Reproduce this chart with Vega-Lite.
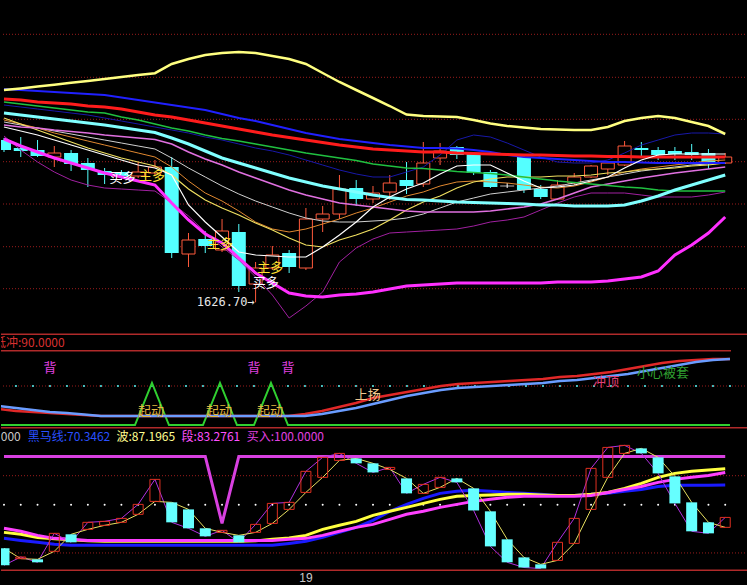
{
"$schema": "https://vega.github.io/schema/vega-lite/v6.json",
"background": "#000000",
"padding": 0,
"spacing": 0,
"bounds": "flush",
"config": {"view": {"stroke": null}, "text": {"font": "Noto Sans CJK SC"}},
"datasets": {
"k": [
{"i":0,"o":1789,"h":1791,"l":1777,"c":1779,"bu":1839,"bl":1790,"mb":1840,"mr":1830,"mg":1827,"mc":1816,"mv":1804,"mw":1802,"my":1811,"mo":1809,"ms":1807,"mp":1793,"mn":1824,"ra":36.9,"rb":43.9,"gr":0,"k":-12.8,"d":4.8,"wv":21.3,"sg":25.5,"hm":15.1,"buy":100},
{"i":1,"o":1781,"h":1792,"l":1772,"c":1778,"bu":1840.6,"bl":1783,"mb":1839,"mr":1829,"mg":1825,"mc":1814,"mv":1802,"mw":1798,"my":1805,"mo":1805,"ms":1804,"mp":1779,"mn":1822,"ra":32.3,"rb":39.2,"gr":0,"k":-4.2,"d":-5.9,"wv":19.3,"sg":22.4,"hm":13.0,"buy":100},
{"i":2,"o":1779,"h":1789,"l":1772,"c":1773,"bu":1842.4,"bl":1777,"mb":1838,"mr":1827,"mg":1823,"mc":1812,"mv":1801,"mw":1794,"my":1799,"mo":1801,"ms":1801,"mp":1767,"mn":1820,"ra":30.0,"rb":34.6,"gr":0,"k":-9.7,"d":-6.6,"wv":16.1,"sg":18.2,"hm":11.0,"buy":100},
{"i":3,"o":1772,"h":1783,"l":1762,"c":1776,"bu":1844.3,"bl":1771,"mb":1837,"mr":1826,"mg":1821,"mc":1810,"mv":1799,"mw":1789,"my":1793,"mo":1796,"ms":1798,"mp":1757,"mn":1818,"ra":27.7,"rb":30.0,"gr":0,"k":20.3,"d":1.7,"wv":14.6,"sg":15.1,"hm":8.9,"buy":100},
{"i":4,"o":1776,"h":1779,"l":1758,"c":1765,"bu":1846.2,"bl":1766,"mb":1836,"mr":1825,"mg":1819,"mc":1808,"mv":1797.5,"mw":1784,"my":1787,"mo":1792,"ms":1795,"mp":1749,"mn":1816,"ra":25.4,"rb":27.7,"gr":0,"k":11.0,"d":19.3,"wv":13.6,"sg":14.1,"hm":7.9,"buy":100},
{"i":5,"o":1766,"h":1771,"l":1742,"c":1759,"bu":1848.1,"bl":1761,"mb":1835,"mr":1823,"mg":1817,"mc":1806,"mv":1796,"mw":1779,"my":1781,"mo":1788,"ms":1792,"mp":1744,"mn":1814,"ra":23.1,"rb":24.2,"gr":0,"k":31.7,"d":24.4,"wv":12.5,"sg":13.0,"hm":7.9,"buy":100},
{"i":6,"o":1758,"h":1761,"l":1745,"c":1754,"bu":1850,"bl":1756,"mb":1834,"mr":1822,"mg":1816,"mc":1804,"mv":1794,"mw":1774,"my":1776,"mo":1784,"ms":1789,"mp":1741,"mn":1811,"ra":20.8,"rb":20.8,"gr":0,"k":32.7,"d":28.6,"wv":12.0,"sg":13.0,"hm":7.9,"buy":100},
{"i":7,"o":1757,"h":1759,"l":1749,"c":1753,"bu":1852,"bl":1752,"mb":1831.5,"mr":1820,"mg":1812,"mc":1801.5,"mv":1792.5,"mw":1769,"my":1771,"mo":1780,"ms":1786,"mp":1740,"mn":1808,"ra":20.8,"rb":20.8,"gr":0,"k":35.8,"d":31.7,"wv":12.0,"sg":13.0,"hm":7.9,"buy":100},
{"i":8,"o":1753,"h":1767,"l":1751,"c":1757,"bu":1854,"bl":1748,"mb":1829,"mr":1817,"mg":1809,"mc":1799,"mv":1791,"mw":1764,"my":1767,"mo":1776,"ms":1783,"mp":1739,"mn":1805,"ra":20.8,"rb":20.8,"gr":0,"k":50.3,"d":40.0,"wv":12.0,"sg":13.0,"hm":7.9,"buy":100},
{"i":9,"o":1756,"h":1769,"l":1753,"c":1762,"bu":1855.8,"bl":1744,"mb":1826.5,"mr":1814,"mg":1805,"mc":1796.5,"mv":1789.5,"mw":1761,"my":1763,"mo":1772,"ms":1780,"mp":1738,"mn":1802,"ra":20.8,"rb":20.8,"gr":97,"k":76.2,"d":53.4,"wv":12.0,"sg":13.0,"hm":7.9,"buy":100},
{"i":10,"o":1762,"h":1772,"l":1671,"c":1676,"bu":1865,"bl":1726,"mb":1824,"mr":1812,"mg":1801,"mc":1791,"mv":1785,"mw":1754,"my":1754,"mo":1762,"ms":1771,"mp":1726,"mn":1799,"ra":20.8,"rb":20.8,"gr":0,"k":31.7,"d":52.4,"wv":12.0,"sg":13.0,"hm":7.9,"buy":100},
{"i":11,"o":1675,"h":1696,"l":1662,"c":1689,"bu":1870,"bl":1709,"mb":1821.5,"mr":1809,"mg":1798,"mc":1785,"mv":1777,"mw":1724,"my":1740,"mo":1748,"ms":1761,"mp":1713,"mn":1796,"ra":20.8,"rb":20.8,"gr":0,"k":25.5,"d":45.1,"wv":12.0,"sg":13.0,"hm":7.9,"buy":100},
{"i":12,"o":1690,"h":1698,"l":1676,"c":1683,"bu":1874,"bl":1695,"mb":1819,"mr":1806,"mg":1794,"mc":1778,"mv":1770,"mw":1707,"my":1729,"mo":1736,"ms":1752,"mp":1697,"mn":1792,"ra":20.8,"rb":20.8,"gr":0,"k":17.2,"d":25.5,"wv":12.0,"sg":13.0,"hm":7.9,"buy":100},
{"i":13,"o":1679,"h":1710,"l":1677,"c":1698,"bu":1876,"bl":1686,"mb":1815,"mr":1803,"mg":1790.5,"mc":1771,"mv":1764,"mw":1692,"my":1721,"mo":1728,"ms":1743,"mp":1682,"mn":1789,"ra":20.8,"rb":20.8,"gr":97,"k":23.4,"d":21.3,"wv":12.0,"sg":13.0,"hm":7.9,"buy":30.6},
{"i":14,"o":1697,"h":1705,"l":1637,"c":1643,"bu":1877,"bl":1671,"mb":1811,"mr":1800,"mg":1788,"mc":1766,"mv":1757,"mw":1677,"my":1714,"mo":1718,"ms":1735,"mp":1669,"mn":1785,"ra":20.8,"rb":20.8,"gr":0,"k":11.0,"d":18.2,"wv":12.0,"sg":13.0,"hm":7.9,"buy":100},
{"i":15,"o":1645,"h":1667,"l":1626.7,"c":1661,"bu":1876,"bl":1656,"mb":1808,"mr":1797,"mg":1785,"mc":1761,"mv":1751,"mw":1674,"my":1706,"mo":1707,"ms":1728,"mp":1652,"mn":1781,"ra":20.8,"rb":20.8,"gr":0,"k":29.6,"d":21.3,"wv":12.5,"sg":13.0,"hm":7.9,"buy":100},
{"i":16,"o":1661,"h":1683,"l":1659,"c":1674,"bu":1873,"bl":1646,"mb":1804,"mr":1794,"mg":1782,"mc":1756,"mv":1745,"mw":1673,"my":1699,"mo":1700,"ms":1722,"mp":1634,"mn":1778,"ra":20.8,"rb":20.8,"gr":97,"k":51.3,"d":30.6,"wv":14.1,"sg":13.0,"hm":7.9,"buy":100},
{"i":17,"o":1676,"h":1679,"l":1656,"c":1662,"bu":1870,"bl":1636,"mb":1800,"mr":1791.5,"mg":1779,"mc":1751,"mv":1739,"mw":1672,"my":1691,"mo":1697,"ms":1716,"mp":1611,"mn":1774,"ra":20.8,"rb":20.8,"gr":0,"k":52.4,"d":45.1,"wv":15.6,"sg":14.1,"hm":9.9,"buy":100},
{"i":18,"o":1661,"h":1721,"l":1659,"c":1710,"bu":1865,"bl":1633,"mb":1796,"mr":1789,"mg":1776,"mc":1747,"mv":1734,"mw":1672,"my":1684,"mo":1700,"ms":1711,"mp":1623,"mn":1769,"ra":25.4,"rb":20.8,"gr":0,"k":84.5,"d":62.7,"wv":18.2,"sg":15.1,"hm":12.0,"buy":100},
{"i":19,"o":1710,"h":1723,"l":1697,"c":1715,"bu":1856,"bl":1632,"mb":1793,"mr":1786.5,"mg":1773.5,"mc":1743,"mv":1730,"mw":1682,"my":1682,"mo":1705,"ms":1708,"mp":1637,"mn":1764,"ra":32.3,"rb":25.4,"gr":0,"k":99.0,"d":78.3,"wv":24.4,"sg":18.2,"hm":16.1,"buy":100},
{"i":20,"o":1715,"h":1754,"l":1710,"c":1740,"bu":1847,"bl":1634,"mb":1790,"mr":1784,"mg":1771,"mc":1740,"mv":1726,"mw":1694,"my":1689,"mo":1710,"ms":1707,"mp":1667,"mn":1759,"ra":41.5,"rb":32.3,"gr":0,"k":103.1,"d":95.9,"wv":28.6,"sg":22.4,"hm":21.3,"buy":100},
{"i":21,"o":1741,"h":1749,"l":1723,"c":1730,"bu":1839,"bl":1635,"mb":1788,"mr":1782,"mg":1768.5,"mc":1737,"mv":1724,"mw":1707,"my":1694,"mo":1716,"ms":1707,"mp":1681,"mn":1755,"ra":50.8,"rb":39.2,"gr":0,"k":92.8,"d":97.9,"wv":32.7,"sg":26.5,"hm":26.5,"buy":100},
{"i":22,"o":1730,"h":1743,"l":1726,"c":1736,"bu":1831,"bl":1637,"mb":1786,"mr":1780,"mg":1765,"mc":1734,"mv":1722,"mw":1722,"my":1700,"mo":1721,"ms":1708,"mp":1690,"mn":1752,"ra":62.3,"rb":48.5,"gr":0,"k":83.4,"d":92.8,"wv":38.9,"sg":29.6,"hm":33.7,"buy":100},
{"i":23,"o":1737,"h":1754,"l":1729,"c":1746,"bu":1823,"bl":1640,"mb":1784,"mr":1779,"mg":1763,"mc":1731.5,"mv":1720,"mw":1732,"my":1709,"mo":1727,"ms":1709,"mp":1696,"mn":1752,"ra":69.2,"rb":57.7,"gr":0,"k":88.6,"d":86.5,"wv":43.1,"sg":34.8,"hm":43.1,"buy":100},
{"i":24,"o":1749,"h":1767,"l":1735,"c":1743,"bu":1814.5,"bl":1643,"mb":1782.5,"mr":1778,"mg":1761,"mc":1729.5,"mv":1718,"mw":1740,"my":1719,"mo":1733,"ms":1711,"mp":1697,"mn":1757,"ra":76.2,"rb":66.9,"gr":0,"k":61.7,"d":77.2,"wv":47.2,"sg":40.0,"hm":50.3,"buy":100},
{"i":25,"o":1745,"h":1787,"l":1742,"c":1766,"bu":1813,"bl":1644,"mb":1781,"mr":1777,"mg":1760.5,"mc":1729,"mv":1717,"mw":1746,"my":1727,"mo":1737,"ms":1715,"mp":1698,"mn":1762,"ra":83.1,"rb":73.9,"gr":0,"k":71.0,"d":61.7,"wv":51.3,"sg":43.1,"hm":56.5,"buy":100},
{"i":26,"o":1771,"h":1786,"l":1764,"c":1778,"bu":1812.5,"bl":1645,"mb":1781,"mr":1777,"mg":1759,"mc":1728,"mv":1717,"mw":1755,"my":1733,"mo":1743,"ms":1721,"mp":1699,"mn":1774,"ra":90.0,"rb":80.8,"gr":0,"k":78.3,"d":67.9,"wv":55.5,"sg":47.2,"hm":61.7,"buy":100},
{"i":27,"o":1782,"h":1783,"l":1770,"c":1774,"bu":1812,"bl":1646,"mb":1780.5,"mr":1776,"mg":1757.5,"mc":1727,"mv":1717,"mw":1763,"my":1741,"mo":1747,"ms":1727,"mp":1700,"mn":1789,"ra":94.6,"rb":85.4,"gr":0,"k":73.1,"d":77.2,"wv":58.6,"sg":50.3,"hm":63.8,"buy":100},
{"i":28,"o":1776,"h":1777,"l":1754,"c":1756,"bu":1809,"bl":1646,"mb":1779,"mr":1775.5,"mg":1756.5,"mc":1726.5,"mv":1717,"mw":1764,"my":1747,"mo":1748,"ms":1731,"mp":1703,"mn":1794,"ra":96.9,"rb":87.7,"gr":0,"k":44.0,"d":66.9,"wv":59.6,"sg":53.4,"hm":64.8,"buy":100},
{"i":29,"o":1757,"h":1759,"l":1741,"c":1742,"bu":1805.5,"bl":1646,"mb":1777,"mr":1775,"mg":1755.5,"mc":1726,"mv":1718,"mw":1764,"my":1750,"mo":1747,"ms":1735,"mp":1707,"mn":1792,"ra":99.2,"rb":90.0,"gr":0,"k":6.8,"d":43.1,"wv":60.1,"sg":55.5,"hm":63.8,"buy":100},
{"i":30,"o":1743,"h":1746,"l":1741,"c":1743,"bu":1803,"bl":1646,"mb":1774,"mr":1774.5,"mg":1754,"mc":1725.5,"mv":1720,"mw":1756,"my":1752,"mo":1746,"ms":1737,"mp":1709,"mn":1786,"ra":101.5,"rb":92.3,"gr":0,"k":-9.7,"d":14.1,"wv":60.7,"sg":57.6,"hm":62.7,"buy":100},
{"i":31,"o":1772,"h":1775,"l":1736,"c":1739,"bu":1801.5,"bl":1646,"mb":1772,"mr":1774,"mg":1752,"mc":1725,"mv":1722,"mw":1748,"my":1752,"mo":1744,"ms":1739,"mp":1712,"mn":1779,"ra":103.9,"rb":94.6,"gr":0,"k":-15.1,"d":-4.6,"wv":60.7,"sg":58.6,"hm":61.7,"buy":100},
{"i":32,"o":1740,"h":1744,"l":1730,"c":1732,"bu":1800,"bl":1646,"mb":1771,"mr":1774,"mg":1750,"mc":1724,"mv":1725,"mw":1741,"my":1752,"mo":1742,"ms":1741,"mp":1719,"mn":1772,"ra":106.2,"rb":96.9,"gr":0,"k":-16.1,"d":-11.8,"wv":60.1,"sg":58.6,"hm":60.7,"buy":100},
{"i":33,"o":1730,"h":1749,"l":1729,"c":1744,"bu":1799.5,"bl":1647,"mb":1770,"mr":1773.5,"mg":1748,"mc":1724,"mv":1730,"mw":1742,"my":1753,"mo":1741,"ms":1743,"mp":1726,"mn":1767,"ra":110.8,"rb":101.5,"gr":0,"k":11.0,"d":-7.7,"wv":59.6,"sg":58.6,"hm":59.6,"buy":100},
{"i":34,"o":1746,"h":1756,"l":1744,"c":1752,"bu":1799,"bl":1647,"mb":1769,"mr":1773,"mg":1746.5,"mc":1723,"mv":1736,"mw":1744,"my":1753,"mo":1743,"ms":1746,"mp":1732,"mn":1766,"ra":113.1,"rb":103.9,"gr":0,"k":35.8,"d":9.9,"wv":59.6,"sg":58.6,"hm":59.6,"buy":100},
{"i":35,"o":1752,"h":1764,"l":1751,"c":1763,"bu":1799,"bl":1647,"mb":1768,"mr":1773,"mg":1745,"mc":1723,"mv":1742,"mw":1748,"my":1754,"mo":1747,"ms":1749,"mp":1736,"mn":1766,"ra":117.7,"rb":108.5,"gr":0,"k":87.6,"d":45.1,"wv":60.7,"sg":59.6,"hm":60.7,"buy":100},
{"i":36,"o":1760,"h":1767,"l":1754,"c":1766,"bu":1802,"bl":1648,"mb":1767,"mr":1772.5,"mg":1743.5,"mc":1723,"mv":1745,"mw":1752,"my":1756,"mo":1752,"ms":1752,"mp":1736,"mn":1769,"ra":122.3,"rb":113.1,"gr":0,"k":109.3,"d":78.3,"wv":62.7,"sg":62.7,"hm":61.7,"buy":100},
{"i":37,"o":1764,"h":1788,"l":1763,"c":1783,"bu":1808,"bl":1650,"mb":1767,"mr":1772.5,"mg":1742,"mc":1724,"mv":1748,"mw":1761,"my":1757,"mo":1757,"ms":1755,"mp":1736,"mn":1776,"ra":129.2,"rb":117.7,"gr":0,"k":111.4,"d":103.1,"wv":66.9,"sg":65.8,"hm":63.8,"buy":100},
{"i":38,"o":1781,"h":1787,"l":1773,"c":1779,"bu":1811,"bl":1652,"mb":1766.5,"mr":1772,"mg":1741,"mc":1728,"mv":1751,"mw":1769,"my":1759,"mo":1760,"ms":1758,"mp":1734,"mn":1784,"ra":136.2,"rb":124.6,"gr":0,"k":103.1,"d":108.3,"wv":72.1,"sg":68.9,"hm":65.8,"buy":100},
{"i":39,"o":1779,"h":1782,"l":1769,"c":1774,"bu":1813,"bl":1658,"mb":1766,"mr":1772,"mg":1739,"mc":1733,"mv":1753.5,"mw":1774,"my":1760,"mo":1762,"ms":1760,"mp":1732,"mn":1789,"ra":143.1,"rb":131.5,"gr":0,"k":82.4,"d":99.0,"wv":78.3,"sg":73.1,"hm":68.9,"buy":100},
{"i":40,"o":1778,"h":1782,"l":1769,"c":1775,"bu":1811,"bl":1674,"mb":1766,"mr":1772,"mg":1738,"mc":1739,"mv":1756,"mw":1775,"my":1761,"mo":1764,"ms":1762,"mp":1732,"mn":1794,"ra":147.7,"rb":138.5,"gr":0,"k":51.3,"d":79.3,"wv":82.4,"sg":76.2,"hm":70.0,"buy":100},
{"i":41,"o":1777,"h":1785,"l":1769,"c":1774,"bu":1807,"bl":1684,"mb":1766,"mr":1772,"mg":1738,"mc":1744,"mv":1758,"mw":1775,"my":1763,"mo":1766,"ms":1764,"mp":1732,"mn":1796,"ra":150.0,"rb":145.4,"gr":0,"k":22.4,"d":52.4,"wv":84.5,"sg":78.3,"hm":70.0,"buy":100},
{"i":42,"o":1776,"h":1780,"l":1760,"c":1767,"bu":1803,"bl":1696,"mb":1766,"mr":1772,"mg":1738,"mc":1749,"mv":1760,"mw":1775,"my":1764,"mo":1768,"ms":1765,"mp":1734,"mn":1796,"ra":152.3,"rb":150.0,"gr":0,"k":20.3,"d":31.7,"wv":86.0,"sg":80.3,"hm":70.0,"buy":100},
{"i":43,"o":1766,"h":1776,"l":1765,"c":1772,"bu":1795,"bl":1712,"mb":1766,"mr":1772,"mg":1738,"mc":1754,"mv":1762,"mw":1775,"my":1766,"mo":1769,"ms":1766,"mp":1737,"mn":1795,"ra":152.3,"rb":152.3,"gr":0,"k":36.8,"d":26.5,"wv":87.2,"sg":83.3,"hm":70.3,"buy":100}
]
},
"vconcat": [
{
"width": 747, "height": 334,
"layer": [
{"data": {"values": [{"g":1894.7},{"g":1851.7},{"g":1809.7},{"g":1767.3},{"g":1725},{"g":1682.3},{"g":1640.3}]},
 "mark": {"type": "rule", "color": "#9a1c1c", "strokeDash": [1, 2], "strokeWidth": 1},
 "encoding": {"y": {"field": "g", "type": "quantitative", "scale": {"domain": [1595, 1929], "nice": false, "zero": false}, "axis": null}}},
{"data": {"name": "k"}, "transform": [{"filter": "datum.c > datum.o"}],
 "mark": {"type": "rule", "color": "#ff5a3c", "strokeWidth": 1, "clip": true},
 "encoding": {"x": {"field": "i", "type": "quantitative", "scale": {"domain": [0.12, 44.06], "nice": false, "zero": false}, "axis": null},
  "y": {"field": "l", "type": "quantitative", "scale": {"domain": [1595, 1929], "nice": false, "zero": false}, "axis": null}, "y2": {"field": "h"}}},
{"data": {"name": "k"}, "transform": [{"filter": "datum.c < datum.o"}],
 "mark": {"type": "rule", "color": "#54ffff", "strokeWidth": 1, "clip": true},
 "encoding": {"x": {"field": "i", "type": "quantitative", "scale": {"domain": [0.12, 44.06], "nice": false, "zero": false}, "axis": null},
  "y": {"field": "l", "type": "quantitative", "scale": {"domain": [1595, 1929], "nice": false, "zero": false}, "axis": null}, "y2": {"field": "h"}}},
{"data": {"name": "k"}, "transform": [{"filter": "datum.c == datum.o"}],
 "mark": {"type": "rule", "color": "#ffffff", "strokeWidth": 1, "clip": true},
 "encoding": {"x": {"field": "i", "type": "quantitative", "scale": {"domain": [0.12, 44.06], "nice": false, "zero": false}, "axis": null},
  "y": {"field": "l", "type": "quantitative", "scale": {"domain": [1595, 1929], "nice": false, "zero": false}, "axis": null}, "y2": {"field": "h"}}},
{"data": {"name": "k"}, "transform": [{"filter": "datum.c > datum.o"}],
 "mark": {"type": "bar", "fill": "#000000", "stroke": "#ff5a3c", "strokeWidth": 1, "size": 13, "clip": true},
 "encoding": {"x": {"field": "i", "type": "quantitative", "scale": {"domain": [0.12, 44.06], "nice": false, "zero": false}, "axis": null},
  "y": {"field": "o", "type": "quantitative", "scale": {"domain": [1595, 1929], "nice": false, "zero": false}, "axis": null}, "y2": {"field": "c"}}},
{"data": {"name": "k"}, "transform": [{"filter": "datum.c < datum.o"}],
 "mark": {"type": "bar", "color": "#54ffff", "size": 14, "clip": true},
 "encoding": {"x": {"field": "i", "type": "quantitative", "scale": {"domain": [0.12, 44.06], "nice": false, "zero": false}, "axis": null},
  "y": {"field": "o", "type": "quantitative", "scale": {"domain": [1595, 1929], "nice": false, "zero": false}, "axis": null}, "y2": {"field": "c"}}},
{"data": {"name": "k"}, "transform": [{"filter": "datum.c == datum.o"}],
 "mark": {"type": "tick", "color": "#ffffff", "orient": "horizontal", "size": 14, "thickness": 1, "clip": true},
 "encoding": {"x": {"field": "i", "type": "quantitative", "scale": {"domain": [0.12, 44.06], "nice": false, "zero": false}, "axis": null},
  "y": {"field": "o", "type": "quantitative", "scale": {"domain": [1595, 1929], "nice": false, "zero": false}, "axis": null}}},
{"data": {"name": "k"}, "mark": {"type": "line", "color": "#a020a0", "strokeWidth": 1, "clip": true},
 "encoding": {"x": {"field": "i", "type": "quantitative", "scale": {"domain": [0.12, 44.06], "nice": false, "zero": false}, "axis": null}, "y": {"field": "mp", "type": "quantitative", "scale": {"domain": [1595, 1929], "nice": false, "zero": false}, "axis": null}}},
{"data": {"name": "k"}, "mark": {"type": "line", "color": "#1818a8", "strokeWidth": 1, "clip": true},
 "encoding": {"x": {"field": "i", "type": "quantitative", "scale": {"domain": [0.12, 44.06], "nice": false, "zero": false}, "axis": null}, "y": {"field": "mn", "type": "quantitative", "scale": {"domain": [1595, 1929], "nice": false, "zero": false}, "axis": null}}},
{"data": {"name": "k"}, "mark": {"type": "line", "color": "#d0d0d0", "strokeWidth": 1, "clip": true},
 "encoding": {"x": {"field": "i", "type": "quantitative", "scale": {"domain": [0.12, 44.06], "nice": false, "zero": false}, "axis": null}, "y": {"field": "ms", "type": "quantitative", "scale": {"domain": [1595, 1929], "nice": false, "zero": false}, "axis": null}}},
{"data": {"name": "k"}, "mark": {"type": "line", "color": "#e08830", "strokeWidth": 1, "clip": true},
 "encoding": {"x": {"field": "i", "type": "quantitative", "scale": {"domain": [0.12, 44.06], "nice": false, "zero": false}, "axis": null}, "y": {"field": "mo", "type": "quantitative", "scale": {"domain": [1595, 1929], "nice": false, "zero": false}, "axis": null}}},
{"data": {"name": "k"}, "mark": {"type": "line", "color": "#f0e060", "strokeWidth": 1.2, "clip": true},
 "encoding": {"x": {"field": "i", "type": "quantitative", "scale": {"domain": [0.12, 44.06], "nice": false, "zero": false}, "axis": null}, "y": {"field": "my", "type": "quantitative", "scale": {"domain": [1595, 1929], "nice": false, "zero": false}, "axis": null}}},
{"data": {"name": "k"}, "mark": {"type": "line", "color": "#e070e0", "strokeWidth": 1.6, "clip": true},
 "encoding": {"x": {"field": "i", "type": "quantitative", "scale": {"domain": [0.12, 44.06], "nice": false, "zero": false}, "axis": null}, "y": {"field": "mv", "type": "quantitative", "scale": {"domain": [1595, 1929], "nice": false, "zero": false}, "axis": null}}},
{"data": {"name": "k"}, "mark": {"type": "line", "color": "#20c040", "strokeWidth": 1.6, "clip": true},
 "encoding": {"x": {"field": "i", "type": "quantitative", "scale": {"domain": [0.12, 44.06], "nice": false, "zero": false}, "axis": null}, "y": {"field": "mg", "type": "quantitative", "scale": {"domain": [1595, 1929], "nice": false, "zero": false}, "axis": null}}},
{"data": {"name": "k"}, "mark": {"type": "line", "color": "#80ffff", "strokeWidth": 3, "clip": true},
 "encoding": {"x": {"field": "i", "type": "quantitative", "scale": {"domain": [0.12, 44.06], "nice": false, "zero": false}, "axis": null}, "y": {"field": "mc", "type": "quantitative", "scale": {"domain": [1595, 1929], "nice": false, "zero": false}, "axis": null}}},
{"data": {"name": "k"}, "mark": {"type": "line", "color": "#2020ff", "strokeWidth": 2, "clip": true},
 "encoding": {"x": {"field": "i", "type": "quantitative", "scale": {"domain": [0.12, 44.06], "nice": false, "zero": false}, "axis": null}, "y": {"field": "mb", "type": "quantitative", "scale": {"domain": [1595, 1929], "nice": false, "zero": false}, "axis": null}}},
{"data": {"name": "k"}, "mark": {"type": "line", "color": "#ff1c1c", "strokeWidth": 3, "clip": true},
 "encoding": {"x": {"field": "i", "type": "quantitative", "scale": {"domain": [0.12, 44.06], "nice": false, "zero": false}, "axis": null}, "y": {"field": "mr", "type": "quantitative", "scale": {"domain": [1595, 1929], "nice": false, "zero": false}, "axis": null}}},
{"data": {"name": "k"}, "mark": {"type": "line", "color": "#ffffff", "strokeWidth": 1.2, "clip": true},
 "encoding": {"x": {"field": "i", "type": "quantitative", "scale": {"domain": [0.12, 44.06], "nice": false, "zero": false}, "axis": null}, "y": {"field": "mw", "type": "quantitative", "scale": {"domain": [1595, 1929], "nice": false, "zero": false}, "axis": null}}},
{"data": {"name": "k"}, "mark": {"type": "line", "color": "#ffff80", "strokeWidth": 2.5, "clip": true},
 "encoding": {"x": {"field": "i", "type": "quantitative", "scale": {"domain": [0.12, 44.06], "nice": false, "zero": false}, "axis": null}, "y": {"field": "bu", "type": "quantitative", "scale": {"domain": [1595, 1929], "nice": false, "zero": false}, "axis": null}}},
{"data": {"name": "k"}, "mark": {"type": "line", "color": "#ff30ff", "strokeWidth": 3, "clip": true},
 "encoding": {"x": {"field": "i", "type": "quantitative", "scale": {"domain": [0.12, 44.06], "nice": false, "zero": false}, "axis": null}, "y": {"field": "bl", "type": "quantitative", "scale": {"domain": [1595, 1929], "nice": false, "zero": false}, "axis": null}}},
{"data": {"values": [{"t":"买多","x":7.06,"p":1751},{"t":"买多","x":15.6,"p":1646}]},
 "mark": {"type": "text", "color": "#ffffff", "fontSize": 13, "clip": true},
 "encoding": {"x": {"field": "x", "type": "quantitative", "scale": {"domain": [0.12, 44.06], "nice": false, "zero": false}, "axis": null}, "y": {"field": "p", "type": "quantitative", "scale": {"domain": [1595, 1929], "nice": false, "zero": false}, "axis": null}, "text": {"field": "t"}}},
{"data": {"values": [{"t":"主多","x":8.82,"p":1753},{"t":"主多","x":12.88,"p":1685},{"t":"主多","x":15.88,"p":1661}]},
 "mark": {"type": "text", "color": "#ffe030", "fontSize": 13, "clip": true},
 "encoding": {"x": {"field": "x", "type": "quantitative", "scale": {"domain": [0.12, 44.06], "nice": false, "zero": false}, "axis": null}, "y": {"field": "p", "type": "quantitative", "scale": {"domain": [1595, 1929], "nice": false, "zero": false}, "axis": null}, "text": {"field": "t"}}},
{"data": {"values": [{"t":"1626.70→","x":15,"p":1626.7}]},
 "mark": {"type": "text", "color": "#e6e6e6", "font": "DejaVu Sans Mono", "fontSize": 12, "align": "right", "dx": -1, "clip": true},
 "encoding": {"x": {"field": "x", "type": "quantitative", "scale": {"domain": [0.12, 44.06], "nice": false, "zero": false}, "axis": null}, "y": {"field": "p", "type": "quantitative", "scale": {"domain": [1595, 1929], "nice": false, "zero": false}, "axis": null}, "text": {"field": "t"}}}
]
},
{
"width": 747, "height": 94,
"layer": [
{"data": {"values": [{"v":209.2}]}, "mark": {"type": "rule", "color": "#b02a2a", "strokeWidth": 1.5}, "encoding": {"y": {"field": "v", "type": "quantitative", "scale": {"domain": [-6.9, 210], "nice": false, "zero": false}, "axis": null}}},
{"data": {"values": [{"x1":0.12,"x2":43.06,"v":171.5}]}, "mark": {"type": "rule", "color": "#b02a2a", "strokeWidth": 1.5}, "encoding": {"x": {"field": "x1", "type": "quantitative", "scale": {"domain": [0.12, 44.06], "nice": false, "zero": false}, "axis": null}, "x2": {"field": "x2"}, "y": {"field": "v", "type": "quantitative", "scale": {"domain": [-6.9, 210], "nice": false, "zero": false}, "axis": null}}},
{"data": {"values": [{"v":-6.2}]}, "mark": {"type": "rule", "color": "#b02a2a", "strokeWidth": 1.5}, "encoding": {"y": {"field": "v", "type": "quantitative", "scale": {"domain": [-6.9, 210], "nice": false, "zero": false}, "axis": null}}},
{"data": {"values": [{"v":90}]}, "mark": {"type": "rule", "color": "#9a1c1c", "strokeWidth": 1, "strokeDash": [1, 2]}, "encoding": {"y": {"field": "v", "type": "quantitative", "scale": {"domain": [-6.9, 210], "nice": false, "zero": false}, "axis": null}}},
{"data": {"name": "k"}, "mark": {"type": "point", "filled": true, "color": "#50e0e0", "size": 5, "opacity": 1, "clip": true},
 "encoding": {"x": {"field": "i", "type": "quantitative", "scale": {"domain": [0.12, 44.06], "nice": false, "zero": false}, "axis": null}, "y": {"datum": 90, "type": "quantitative", "scale": {"domain": [-6.9, 210], "nice": false, "zero": false}, "axis": null}}},
{"data": {"name": "k"}, "mark": {"type": "line", "color": "#30d030", "strokeWidth": 2, "clip": true},
 "encoding": {"x": {"field": "i", "type": "quantitative", "scale": {"domain": [0.12, 44.06], "nice": false, "zero": false}, "axis": null}, "y": {"field": "gr", "type": "quantitative", "scale": {"domain": [-6.9, 210], "nice": false, "zero": false}, "axis": null}}},
{"data": {"name": "k"}, "mark": {"type": "line", "color": "#e02828", "strokeWidth": 2.5, "clip": true},
 "encoding": {"x": {"field": "i", "type": "quantitative", "scale": {"domain": [0.12, 44.06], "nice": false, "zero": false}, "axis": null}, "y": {"field": "ra", "type": "quantitative", "scale": {"domain": [-6.9, 210], "nice": false, "zero": false}, "axis": null}}},
{"data": {"name": "k"}, "mark": {"type": "line", "color": "#6a9cff", "strokeWidth": 2.5, "clip": true},
 "encoding": {"x": {"field": "i", "type": "quantitative", "scale": {"domain": [0.12, 44.06], "nice": false, "zero": false}, "axis": null}, "y": {"field": "rb", "type": "quantitative", "scale": {"domain": [-6.9, 210], "nice": false, "zero": false}, "axis": null}}},
{"data": {"values": [{"t":"低冲:90.0000","x":0.12,"v":189.2}]},
 "mark": {"type": "text", "color": "#d83030", "fontSize": 12, "align": "left", "dx": -7, "clip": true},
 "encoding": {"x": {"field": "x", "type": "quantitative", "scale": {"domain": [0.12, 44.06], "nice": false, "zero": false}, "axis": null}, "y": {"field": "v", "type": "quantitative", "scale": {"domain": [-6.9, 210], "nice": false, "zero": false}, "axis": null}, "text": {"field": "t"}}},
{"data": {"values": [{"x":3},{"x":15},{"x":17}]},
 "mark": {"type": "text", "text": "背", "color": "#e040e0", "fontSize": 13, "clip": true},
 "encoding": {"x": {"field": "x", "type": "quantitative", "scale": {"domain": [0.12, 44.06], "nice": false, "zero": false}, "axis": null}, "y": {"datum": 131.5, "type": "quantitative", "scale": {"domain": [-6.9, 210], "nice": false, "zero": false}, "axis": null}}},
{"data": {"values": [{"x":8.94},{"x":12.94},{"x":15.94}]},
 "mark": {"type": "text", "text": "起动", "color": "#e0b840", "fontSize": 13, "clip": true},
 "encoding": {"x": {"field": "x", "type": "quantitative", "scale": {"domain": [0.12, 44.06], "nice": false, "zero": false}, "axis": null}, "y": {"datum": 33, "type": "quantitative", "scale": {"domain": [-6.9, 210], "nice": false, "zero": false}, "axis": null}}},
{"data": {"values": [{"t":"上扬","x":21.7,"v":69.2,"c":"#f0c890"},{"t":"冲顶","x":35.7,"v":99.2,"c":"#e04078"},{"t":"小心被套","x":39.06,"v":121,"c":"#30a030"}]},
 "mark": {"type": "text", "fontSize": 13, "clip": true},
 "encoding": {"x": {"field": "x", "type": "quantitative", "scale": {"domain": [0.12, 44.06], "nice": false, "zero": false}, "axis": null}, "y": {"field": "v", "type": "quantitative", "scale": {"domain": [-6.9, 210], "nice": false, "zero": false}, "axis": null}, "text": {"field": "t"}, "color": {"field": "c", "type": "nominal", "scale": null, "legend": null}}}
]
},
{
"width": 747, "height": 143,
"layer": [
{"data": {"values": [{"v":-18.0}]}, "mark": {"type": "rule", "color": "#b02a2a", "strokeWidth": 1.5}, "encoding": {"y": {"field": "v", "type": "quantitative", "scale": {"domain": [-18.7, 129.4], "nice": false, "zero": false}, "axis": null}}},
{"data": {"values": [{"g":80},{"g":0}]}, "mark": {"type": "rule", "color": "#9a1c1c", "strokeWidth": 1, "strokeDash": [1, 2]}, "encoding": {"y": {"field": "g", "type": "quantitative", "scale": {"domain": [-18.7, 129.4], "nice": false, "zero": false}, "axis": null}}},
{"data": {"name": "k"}, "mark": {"type": "point", "filled": true, "color": "#ffffff", "size": 4, "opacity": 1, "clip": true},
 "encoding": {"x": {"field": "i", "type": "quantitative", "scale": {"domain": [0.12, 44.06], "nice": false, "zero": false}, "axis": null}, "y": {"datum": 50, "type": "quantitative", "scale": {"domain": [-18.7, 129.4], "nice": false, "zero": false}, "axis": null}}},
{"data": {"name": "k"}, "mark": {"type": "line", "color": "#1a1aff", "strokeWidth": 3, "clip": true},
 "encoding": {"x": {"field": "i", "type": "quantitative", "scale": {"domain": [0.12, 44.06], "nice": false, "zero": false}, "axis": null}, "y": {"field": "hm", "type": "quantitative", "scale": {"domain": [-18.7, 129.4], "nice": false, "zero": false}, "axis": null}}},
{"data": {"name": "k"}, "mark": {"type": "line", "color": "#ffff40", "strokeWidth": 3, "clip": true},
 "encoding": {"x": {"field": "i", "type": "quantitative", "scale": {"domain": [0.12, 44.06], "nice": false, "zero": false}, "axis": null}, "y": {"field": "wv", "type": "quantitative", "scale": {"domain": [-18.7, 129.4], "nice": false, "zero": false}, "axis": null}}},
{"data": {"name": "k"}, "mark": {"type": "line", "color": "#ff40ff", "strokeWidth": 3, "clip": true},
 "encoding": {"x": {"field": "i", "type": "quantitative", "scale": {"domain": [0.12, 44.06], "nice": false, "zero": false}, "axis": null}, "y": {"field": "sg", "type": "quantitative", "scale": {"domain": [-18.7, 129.4], "nice": false, "zero": false}, "axis": null}}},
{"data": {"name": "k"}, "mark": {"type": "line", "color": "#d840e0", "strokeWidth": 3, "clip": true},
 "encoding": {"x": {"field": "i", "type": "quantitative", "scale": {"domain": [0.12, 44.06], "nice": false, "zero": false}, "axis": null}, "y": {"field": "buy", "type": "quantitative", "scale": {"domain": [-18.7, 129.4], "nice": false, "zero": false}, "axis": null}}},
{"data": {"name": "k"}, "mark": {"type": "line", "color": "#b030e0", "strokeWidth": 1, "clip": true},
 "encoding": {"x": {"field": "i", "type": "quantitative", "scale": {"domain": [0.12, 44.06], "nice": false, "zero": false}, "axis": null}, "y": {"field": "k", "type": "quantitative", "scale": {"domain": [-18.7, 129.4], "nice": false, "zero": false}, "axis": null}}},
{"data": {"name": "k"}, "mark": {"type": "line", "color": "#e8e060", "strokeWidth": 1, "clip": true},
 "encoding": {"x": {"field": "i", "type": "quantitative", "scale": {"domain": [0.12, 44.06], "nice": false, "zero": false}, "axis": null}, "y": {"field": "d", "type": "quantitative", "scale": {"domain": [-18.7, 129.4], "nice": false, "zero": false}, "axis": null}}},
{"data": {"name": "k"}, "transform": [{"filter": "datum.k >= datum.d"}],
 "mark": {"type": "bar", "filled": false, "color": "#e03020", "strokeWidth": 1, "size": 10, "clip": true},
 "encoding": {"x": {"field": "i", "type": "quantitative", "scale": {"domain": [0.12, 44.06], "nice": false, "zero": false}, "axis": null}, "y": {"field": "k", "type": "quantitative", "scale": {"domain": [-18.7, 129.4], "nice": false, "zero": false}, "axis": null}, "y2": {"field": "d"}}},
{"data": {"name": "k"}, "transform": [{"filter": "datum.k < datum.d"}],
 "mark": {"type": "bar", "color": "#66ffff", "size": 11, "clip": true},
 "encoding": {"x": {"field": "i", "type": "quantitative", "scale": {"domain": [0.12, 44.06], "nice": false, "zero": false}, "axis": null}, "y": {"field": "k", "type": "quantitative", "scale": {"domain": [-18.7, 129.4], "nice": false, "zero": false}, "axis": null}, "y2": {"field": "d"}}},
{"data": {"values": [{"t":"0.0000","x":1.0,"c":"#c8c8c8"}]},
 "mark": {"type": "text", "fontSize": 12, "align": "right", "clip": true},
 "encoding": {"x": {"field": "x", "type": "quantitative", "scale": {"domain": [0.12, 44.06], "nice": false, "zero": false}, "axis": null}, "y": {"datum": 119.7, "type": "quantitative", "scale": {"domain": [-18.7, 129.4], "nice": false, "zero": false}, "axis": null}, "text": {"field": "t"}, "color": {"field": "c", "type": "nominal", "scale": null, "legend": null}}},
{"data": {"values": [{"t":"黑马线:70.3462","x":1.41,"c":"#2a50ff"},{"t":"波:87.1965","x":6.71,"c":"#ffff90"},{"t":"段:83.2761","x":10.59,"c":"#ff50ff"},{"t":"买入:100.0000","x":14.47,"c":"#e040e0"}]},
 "mark": {"type": "text", "fontSize": 12, "align": "left", "clip": true},
 "encoding": {"x": {"field": "x", "type": "quantitative", "scale": {"domain": [0.12, 44.06], "nice": false, "zero": false}, "axis": null}, "y": {"datum": 119.7, "type": "quantitative", "scale": {"domain": [-18.7, 129.4], "nice": false, "zero": false}, "axis": null}, "text": {"field": "t"}, "color": {"field": "c", "type": "nominal", "scale": null, "legend": null}}},
{"data": {"values": [{"t":"19","x":18,"v":-26.3}]},
 "mark": {"type": "text", "color": "#c8c8c8", "fontSize": 12, "font": "Liberation Sans"},
 "encoding": {"x": {"field": "x", "type": "quantitative", "scale": {"domain": [0.12, 44.06], "nice": false, "zero": false}, "axis": null}, "y": {"field": "v", "type": "quantitative", "scale": {"domain": [-18.7, 129.4], "nice": false, "zero": false}, "axis": null}, "text": {"field": "t"}}}
]
}
]
}
